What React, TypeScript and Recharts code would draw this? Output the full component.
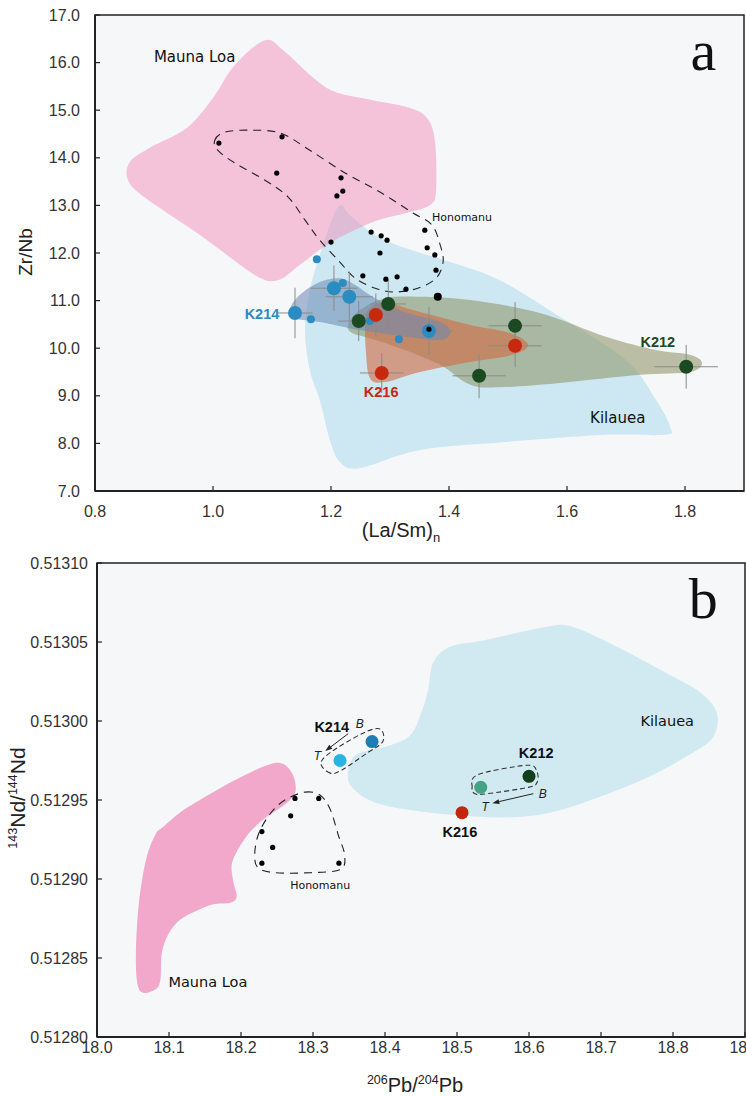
import React from "react";
import { ScatterChart, Scatter, XAxis, YAxis, ReferenceArea } from "recharts";

type P = { x: number; y: number };
type E = P & { ex: number; ey: number };
type L = P & { text: string };

// ---------- panel a : (La/Sm)n vs Zr/Nb ----------
const xTicksA = [0.8, 1.0, 1.2, 1.4, 1.6, 1.8];
const yTicksA = [7, 8, 9, 10, 11, 12, 13, 14, 15, 16, 17];

const maunaLoaA: P[] = [
  { x: 1.088, y: 16.47 }, { x: 1.119, y: 16.26 }, { x: 1.169, y: 15.69 }, { x: 1.207, y: 15.38 },
  { x: 1.271, y: 15.21 }, { x: 1.327, y: 15.07 }, { x: 1.361, y: 14.86 }, { x: 1.376, y: 14.37 },
  { x: 1.378, y: 13.32 }, { x: 1.368, y: 13.01 }, { x: 1.327, y: 12.84 }, { x: 1.271, y: 12.65 },
  { x: 1.198, y: 12.21 }, { x: 1.147, y: 11.75 }, { x: 1.11, y: 11.43 }, { x: 1.071, y: 11.54 },
  { x: 0.978, y: 12.38 }, { x: 0.885, y: 13.16 }, { x: 0.856, y: 13.53 }, { x: 0.859, y: 13.91 },
  { x: 0.893, y: 14.21 }, { x: 0.956, y: 14.63 }, { x: 1.0, y: 15.26 }, { x: 1.037, y: 15.95 },
];

const kilaueaA: P[] = [
  { x: 1.215, y: 13.01 }, { x: 1.232, y: 12.8 }, { x: 1.275, y: 12.38 }, { x: 1.325, y: 12.11 },
  { x: 1.402, y: 11.81 }, { x: 1.486, y: 11.43 }, { x: 1.588, y: 10.66 }, { x: 1.7, y: 9.75 },
  { x: 1.751, y: 8.91 }, { x: 1.775, y: 8.34 }, { x: 1.766, y: 8.18 }, { x: 1.666, y: 8.18 },
  { x: 1.497, y: 8.03 }, { x: 1.351, y: 7.86 }, { x: 1.249, y: 7.48 }, { x: 1.215, y: 7.61 },
  { x: 1.198, y: 8.07 }, { x: 1.181, y: 8.91 }, { x: 1.164, y: 9.54 }, { x: 1.156, y: 10.38 },
  { x: 1.164, y: 11.22 }, { x: 1.181, y: 11.96 }, { x: 1.198, y: 12.59 },
];

const k212FieldA: P[] = [
  { x: 1.229, y: 10.49 }, { x: 1.249, y: 10.8 }, { x: 1.292, y: 11.05 }, { x: 1.351, y: 11.08 },
  { x: 1.436, y: 11.01 }, { x: 1.554, y: 10.74 }, { x: 1.666, y: 10.24 }, { x: 1.751, y: 9.96 },
  { x: 1.808, y: 9.86 }, { x: 1.829, y: 9.69 }, { x: 1.808, y: 9.5 }, { x: 1.724, y: 9.44 },
  { x: 1.588, y: 9.27 }, { x: 1.486, y: 9.18 }, { x: 1.436, y: 9.23 }, { x: 1.385, y: 9.65 },
  { x: 1.317, y: 10.0 }, { x: 1.266, y: 10.21 }, { x: 1.236, y: 10.32 },
];

const k216FieldA: P[] = [
  { x: 1.263, y: 10.8 }, { x: 1.292, y: 10.95 }, { x: 1.351, y: 10.76 }, { x: 1.436, y: 10.49 },
  { x: 1.503, y: 10.32 }, { x: 1.534, y: 10.07 }, { x: 1.507, y: 9.86 }, { x: 1.436, y: 9.71 },
  { x: 1.351, y: 9.5 }, { x: 1.292, y: 9.29 }, { x: 1.266, y: 9.37 }, { x: 1.259, y: 9.96 },
  { x: 1.258, y: 10.49 },
];

const k214FieldA: P[] = [
  { x: 1.131, y: 10.84 }, { x: 1.147, y: 11.12 }, { x: 1.181, y: 11.39 }, { x: 1.215, y: 11.47 },
  { x: 1.241, y: 11.33 }, { x: 1.275, y: 11.05 }, { x: 1.325, y: 10.76 }, { x: 1.385, y: 10.55 },
  { x: 1.402, y: 10.34 }, { x: 1.385, y: 10.17 }, { x: 1.317, y: 10.26 }, { x: 1.249, y: 10.38 },
  { x: 1.181, y: 10.55 }, { x: 1.139, y: 10.63 },
];

const honomanuLineA: P[] = [
  { x: 1.003, y: 14.37 }, { x: 1.02, y: 14.54 }, { x: 1.063, y: 14.58 }, { x: 1.114, y: 14.52 },
  { x: 1.164, y: 14.16 }, { x: 1.224, y: 13.68 }, { x: 1.283, y: 13.28 }, { x: 1.339, y: 12.84 },
  { x: 1.371, y: 12.59 }, { x: 1.385, y: 12.17 }, { x: 1.39, y: 11.81 }, { x: 1.378, y: 11.47 },
  { x: 1.347, y: 11.26 }, { x: 1.308, y: 11.18 }, { x: 1.275, y: 11.26 }, { x: 1.241, y: 11.47 },
  { x: 1.215, y: 11.81 }, { x: 1.181, y: 12.27 }, { x: 1.156, y: 12.69 }, { x: 1.127, y: 13.18 },
  { x: 1.088, y: 13.53 }, { x: 1.037, y: 13.89 }, { x: 1.008, y: 14.16 },
];

const honomanuDotsA: P[] = [
  { x: 1.01, y: 14.31 }, { x: 1.117, y: 14.44 }, { x: 1.108, y: 13.68 }, { x: 1.217, y: 13.58 },
  { x: 1.22, y: 13.3 }, { x: 1.21, y: 13.2 }, { x: 1.2, y: 12.23 }, { x: 1.268, y: 12.44 },
  { x: 1.285, y: 12.36 }, { x: 1.295, y: 12.27 }, { x: 1.283, y: 12.0 }, { x: 1.359, y: 12.48 },
  { x: 1.363, y: 12.11 }, { x: 1.376, y: 11.96 }, { x: 1.378, y: 11.64 }, { x: 1.254, y: 11.52 },
  { x: 1.293, y: 11.45 }, { x: 1.312, y: 11.5 }, { x: 1.327, y: 11.24 }, { x: 1.366, y: 10.4 },
];
const honomanuBigA: P[] = [{ x: 1.381, y: 11.08 }];

const k214DotsA: E[] = [
  { x: 1.139, y: 10.74, ex: 0.03, ey: 0.53 },
  { x: 1.205, y: 11.26, ex: 0.04, ey: 0.48 },
  { x: 1.231, y: 11.08, ex: 0.04, ey: 0.53 },
  { x: 1.366, y: 10.36, ex: 0.04, ey: 0.5 },
];
const k214SmallA: P[] = [
  { x: 1.176, y: 11.87 }, { x: 1.22, y: 11.37 }, { x: 1.166, y: 10.61 }, { x: 1.266, y: 10.57 }, { x: 1.315, y: 10.19 },
];
const k212DotsA: E[] = [
  { x: 1.297, y: 10.93, ex: 0.03, ey: 0.5 },
  { x: 1.247, y: 10.57, ex: 0.035, ey: 0.42 },
  { x: 1.512, y: 10.47, ex: 0.045, ey: 0.5 },
  { x: 1.451, y: 9.42, ex: 0.045, ey: 0.47 },
  { x: 1.802, y: 9.61, ex: 0.054, ey: 0.46 },
];
const k216DotsA: E[] = [
  { x: 1.276, y: 10.7, ex: 0.03, ey: 0.45 },
  { x: 1.512, y: 10.05, ex: 0.045, ey: 0.45 },
  { x: 1.286, y: 9.48, ex: 0.037, ey: 0.42 },
];

const placeNamesA: L[] = [
  { x: 0.969, y: 16.12, text: "Mauna Loa" },
  { x: 1.686, y: 8.53, text: "Kilauea" },
];
const honomanuNameA: L[] = [{ x: 1.422, y: 12.76, text: "Honomanu" }];
const k214NameA: L[] = [{ x: 1.083, y: 10.72, text: "K214" }];
const k216NameA: L[] = [{ x: 1.285, y: 9.08, text: "K216" }];
const k212NameA: L[] = [{ x: 1.754, y: 10.13, text: "K212" }];
const panelA: L[] = [{ x: 1.831, y: 15.84, text: "a" }];

// ---------- panel b : 206Pb/204Pb vs 143Nd/144Nd ----------
const xTicksB = [18.0, 18.1, 18.2, 18.3, 18.4, 18.5, 18.6, 18.7, 18.8, 18.9];
const yTicksB = [0.5128, 0.51285, 0.5129, 0.51295, 0.513, 0.51305, 0.5131];

const maunaLoaB: P[] = [
  { x: 18.092, y: 0.512933 }, { x: 18.115, y: 0.512942 }, { x: 18.143, y: 0.51295 }, { x: 18.189, y: 0.512962 },
  { x: 18.236, y: 0.512972 }, { x: 18.258, y: 0.512973 }, { x: 18.272, y: 0.512966 }, { x: 18.276, y: 0.512956 },
  { x: 18.268, y: 0.51295 }, { x: 18.254, y: 0.512945 }, { x: 18.229, y: 0.512937 }, { x: 18.206, y: 0.512926 },
  { x: 18.188, y: 0.512911 }, { x: 18.189, y: 0.512899 }, { x: 18.194, y: 0.512889 }, { x: 18.185, y: 0.512885 },
  { x: 18.161, y: 0.512884 }, { x: 18.139, y: 0.51288 }, { x: 18.115, y: 0.512874 }, { x: 18.099, y: 0.512865 },
  { x: 18.09, y: 0.512853 }, { x: 18.088, y: 0.512836 }, { x: 18.081, y: 0.51283 }, { x: 18.064, y: 0.512828 },
  { x: 18.056, y: 0.512834 }, { x: 18.054, y: 0.512853 }, { x: 18.058, y: 0.512884 }, { x: 18.068, y: 0.512912 },
  { x: 18.081, y: 0.512928 },
];

const kilaueaB: P[] = [
  { x: 18.349, y: 0.512969 }, { x: 18.361, y: 0.512979 }, { x: 18.403, y: 0.512984 }, { x: 18.435, y: 0.512991 },
  { x: 18.451, y: 0.513006 }, { x: 18.46, y: 0.51302 }, { x: 18.467, y: 0.513037 }, { x: 18.49, y: 0.513047 },
  { x: 18.536, y: 0.513051 }, { x: 18.629, y: 0.51306 }, { x: 18.664, y: 0.513059 }, { x: 18.722, y: 0.513047 },
  { x: 18.792, y: 0.51303 }, { x: 18.838, y: 0.513018 }, { x: 18.861, y: 0.513005 }, { x: 18.856, y: 0.51299 },
  { x: 18.828, y: 0.51298 }, { x: 18.768, y: 0.512965 }, { x: 18.699, y: 0.512952 }, { x: 18.629, y: 0.512942 },
  { x: 18.56, y: 0.512939 }, { x: 18.463, y: 0.512942 }, { x: 18.389, y: 0.512948 }, { x: 18.354, y: 0.512958 },
];

const honomanuLineB: P[] = [
  { x: 18.289, y: 0.512955 }, { x: 18.31, y: 0.512953 }, { x: 18.324, y: 0.512944 }, { x: 18.335, y: 0.512928 },
  { x: 18.344, y: 0.512915 }, { x: 18.338, y: 0.512906 }, { x: 18.296, y: 0.512904 }, { x: 18.247, y: 0.512904 },
  { x: 18.224, y: 0.512907 }, { x: 18.219, y: 0.512915 }, { x: 18.224, y: 0.512928 }, { x: 18.24, y: 0.512941 },
  { x: 18.261, y: 0.51295 },
];
const honomanuDotsB: P[] = [
  { x: 18.275, y: 0.512951 }, { x: 18.308, y: 0.512951 }, { x: 18.269, y: 0.51294 }, { x: 18.229, y: 0.51293 },
  { x: 18.244, y: 0.51292 }, { x: 18.229, y: 0.51291 }, { x: 18.336, y: 0.51291 },
];

const k214LoopB: P[] = [
  { x: 18.324, y: 0.512967 }, { x: 18.311, y: 0.512973 }, { x: 18.324, y: 0.51298 }, { x: 18.368, y: 0.512992 },
  { x: 18.393, y: 0.512995 }, { x: 18.397, y: 0.512987 }, { x: 18.376, y: 0.51298 }, { x: 18.34, y: 0.512969 },
];
const k212LoopB: P[] = [
  { x: 18.521, y: 0.512958 }, { x: 18.529, y: 0.512966 }, { x: 18.597, y: 0.512972 }, { x: 18.611, y: 0.512968 },
  { x: 18.611, y: 0.512961 }, { x: 18.599, y: 0.512958 }, { x: 18.542, y: 0.512954 }, { x: 18.525, y: 0.512954 },
];
const k214ArrowB: P[] = [{ x: 18.349, y: 0.512992 }, { x: 18.317, y: 0.512981 }];
const k212ArrowB: P[] = [{ x: 18.606, y: 0.512954 }, { x: 18.549, y: 0.512948 }];

const k214TopB: P[] = [{ x: 18.3375, y: 0.512975 }];
const k214BaseB: P[] = [{ x: 18.382, y: 0.512987 }];
const k212TopB: P[] = [{ x: 18.533, y: 0.512958 }];
const k212BaseB: P[] = [{ x: 18.6, y: 0.512965 }];
const k216B: P[] = [{ x: 18.507, y: 0.512942 }];

const placeNamesB: L[] = [
  { x: 18.154, y: 0.512835, text: "Mauna Loa" },
  { x: 18.792, y: 0.513, text: "Kilauea" },
];
const honomanuNameB: L[] = [{ x: 18.31, y: 0.512896, text: "Honomanu" }];
const sampleNamesB: L[] = [
  { x: 18.326, y: 0.512996, text: "K214" },
  { x: 18.61, y: 0.51298, text: "K212" },
  { x: 18.504, y: 0.51293, text: "K216" },
];
const topBaseB: L[] = [
  { x: 18.365, y: 0.512998, text: "B" },
  { x: 18.306, y: 0.512978, text: "T" },
  { x: 18.619, y: 0.512954, text: "B" },
  { x: 18.539, y: 0.512946, text: "T" },
];
const panelB: L[] = [{ x: 18.842, y: 0.513065, text: "b" }];

// ---------- drawing helpers ----------
const AX = "#222";
const ERR = "#8a8a8a";
const SANS = "'Liberation Sans', Arial, Helvetica, sans-serif";
const CASUAL = "'DejaVu Sans', sans-serif";

// closed Catmull-Rom path through pixel points
const smooth = (pts: P[]) => {
  const n = pts.length;
  if (!n) return "";
  let d = `M${pts[0].x},${pts[0].y}`;
  for (let i = 0; i < n; i++) {
    const p0 = pts[(i - 1 + n) % n];
    const p1 = pts[i];
    const p2 = pts[(i + 1) % n];
    const p3 = pts[(i + 2) % n];
    d += ` C${p1.x + (p2.x - p0.x) / 6},${p1.y + (p2.y - p0.y) / 6} ${p2.x - (p3.x - p1.x) / 6},${p2.y - (p3.y - p1.y) / 6} ${p2.x},${p2.y}`;
  }
  return d + "Z";
};

// error bar end points, drawn pairwise
const errEnds = (d: E[]) =>
  d.flatMap((p) => [
    { x: p.x - p.ex, y: p.y },
    { x: p.x + p.ex, y: p.y },
    { x: p.x, y: p.y - p.ey },
    { x: p.x, y: p.y + p.ey },
  ]);

const none = () => <g />;

const field = (id: string, data: P[], fill: string, opacity = 1, stroke = "none", dash?: string) => (
  <Scatter
    key={id}
    data={data}
    isAnimationActive={false}
    legendType="none"
    shape={none}
    line={(p: any) => (
      <path d={smooth(p.points)} fill={fill} fillOpacity={opacity} stroke={stroke} strokeWidth={1.1} strokeDasharray={dash} />
    )}
  />
);

const errBars = (id: string, data: E[]) => (
  <Scatter
    key={id}
    data={errEnds(data)}
    isAnimationActive={false}
    legendType="none"
    shape={none}
    line={(p: any) => {
      const pts = p.points as P[];
      let d = "";
      for (let i = 0; i + 1 < pts.length; i += 2) d += `M${pts[i].x},${pts[i].y}L${pts[i + 1].x},${pts[i + 1].y}`;
      return <path d={d} stroke={ERR} strokeWidth={1} fill="none" />;
    }}
  />
);

const dots = (id: string, data: P[], color: string, r: number) => (
  <Scatter
    key={id}
    data={data}
    fill={color}
    isAnimationActive={false}
    legendType="none"
    shape={(p: any) => <circle cx={p.cx} cy={p.cy} r={r} fill={color} />}
  />
);

const labels = (id: string, data: L[], style: Record<string, any>) => (
  <Scatter
    key={id}
    data={data}
    isAnimationActive={false}
    legendType="none"
    shape={(p: any) => (
      <text x={p.cx} y={p.cy} dy="0.35em" textAnchor="middle" {...style}>
        {p.payload.text}
      </text>
    )}
  />
);

const arrow = (id: string, data: P[]) => (
  <Scatter
    key={id}
    data={data}
    isAnimationActive={false}
    legendType="none"
    shape={none}
    line={(p: any) => {
      const [a, b] = p.points;
      const ang = Math.atan2(b.y - a.y, b.x - a.x);
      const bx = b.x - 7 * Math.cos(ang);
      const by = b.y - 7 * Math.sin(ang);
      const w = 2.5;
      return (
        <g>
          <line x1={a.x} y1={a.y} x2={bx} y2={by} stroke={AX} strokeWidth={1} />
          <polygon
            points={`${b.x},${b.y} ${bx - w * Math.sin(ang)},${by + w * Math.cos(ang)} ${bx + w * Math.sin(ang)},${by - w * Math.cos(ang)}`}
            fill={AX}
          />
        </g>
      );
    }}
  />
);

const xTick = (off: number, digits: number) => (props: any) => {
  const { x, y, payload } = props;
  return (
    <g>
      <line x1={x} x2={x} y1={y} y2={y - 5} stroke={AX} strokeWidth={1.2} />
      <text x={x} y={y + off} textAnchor="middle" fontFamily={SANS} fontSize={16} fill="#333">
        {Number(payload.value).toFixed(digits)}
      </text>
    </g>
  );
};

const yTick = (gap: number, digits: number) => (props: any) => {
  const { x, y, payload } = props;
  return (
    <g>
      <line x1={x} x2={x + 5} y1={y} y2={y} stroke={AX} strokeWidth={1.2} />
      <text x={x - gap} y={y} dy="0.35em" textAnchor="end" fontFamily={SANS} fontSize={16} fill="#333">
        {Number(payload.value).toFixed(digits)}
      </text>
    </g>
  );
};

const sup = (t: string) => (
  <span style={{ fontSize: 12.5, position: "relative", top: -8 }}>{t}</span>
);

export default function App() {
  return (
    <div
      style={{
        position: "absolute",
        left: 0,
        top: 0,
        width: 746,
        height: 1096,
        overflow: "hidden",
        background: "#fff",
        fontFamily: SANS,
      }}
    >
      {/* panel a */}
      <div style={{ position: "absolute", left: 0, top: 0 }}>
        <ScatterChart width={746} height={540} margin={{ top: 15, right: 2, bottom: 0, left: 0 }}>
          <XAxis
            type="number"
            dataKey="x"
            domain={[0.8, 1.9]}
            ticks={xTicksA}
            interval={0}
            allowDataOverflow
            height={49}
            tickSize={0}
            tickMargin={0}
            tickLine={false}
            tick={xTick(25.5, 1)}
            axisLine={{ stroke: AX, strokeWidth: 2 }}
          />
          <YAxis
            type="number"
            dataKey="y"
            domain={[7, 17]}
            ticks={yTicksA}
            interval={0}
            allowDataOverflow
            width={95}
            tickSize={0}
            tickMargin={0}
            tickLine={false}
            tick={yTick(15, 1)}
            axisLine={{ stroke: AX, strokeWidth: 2 }}
          />
          <ReferenceArea x1={0.8} x2={1.9} y1={7} y2={17} fill="#f6f7f9" fillOpacity={1} stroke={AX} strokeWidth={1.5} />
          {field("kilA", kilaueaA, "#cde8f2")}
          {field("mlA", maunaLoaA, "#f190ba", 0.5)}
          {field("k212A", k212FieldA, "#8a9060", 0.55)}
          {field("k216A", k216FieldA, "#d2693f", 0.6)}
          {field("k214A", k214FieldA, "#6a86b5", 0.55)}
          {field("honA", honomanuLineA, "none", 1, "#222", "8 6")}
          {errBars("e214A", k214DotsA)}
          {errBars("e212A", k212DotsA)}
          {errBars("e216A", k216DotsA)}
          {dots("k214sA", k214SmallA, "#2a8cc0", 4)}
          {dots("k214A", k214DotsA, "#2a8cc0", 7)}
          {dots("k212A", k212DotsA, "#1b4a22", 7)}
          {dots("k216A", k216DotsA, "#c8280e", 7)}
          {dots("honDA", honomanuDotsA, "#000", 2.6)}
          {dots("honBA", honomanuBigA, "#000", 4)}
          {labels("plA", placeNamesA, { fontFamily: CASUAL, fontSize: 15, fill: "#111" })}
          {labels("hnA", honomanuNameA, { fontFamily: CASUAL, fontSize: 11, fill: "#111" })}
          {labels("n214A", k214NameA, { fontFamily: SANS, fontSize: 14.5, fontWeight: 700, fill: "#2a8cc0" })}
          {labels("n216A", k216NameA, { fontFamily: SANS, fontSize: 14.5, fontWeight: 700, fill: "#c8280e" })}
          {labels("n212A", k212NameA, { fontFamily: SANS, fontSize: 14.5, fontWeight: 700, fill: "#1b4a22" })}
          {labels("pA", panelA, { fontFamily: "'Liberation Serif', serif", fontSize: 58, fill: "#111", dy: 0 })}
        </ScatterChart>
      </div>
      <div style={{ position: "absolute", left: 401, top: 519, transform: "translateX(-50%)", fontSize: 20, lineHeight: "23px", whiteSpace: "nowrap", color: "#222" }}>
        (La/Sm)<span style={{ fontSize: 13, position: "relative", top: 5 }}>n</span>
      </div>
      <div
        style={{
          position: "absolute",
          left: 26,
          top: 252,
          transform: "translate(-50%, -50%) rotate(-90deg)",
          fontSize: 19,
          whiteSpace: "nowrap",
          color: "#222",
        }}
      >
        Zr/Nb
      </div>

      {/* panel b */}
      <div style={{ position: "absolute", left: 0, top: 548 }}>
        <ScatterChart width={746} height={548} margin={{ top: 15, right: 1, bottom: 0, left: 0 }}>
          <XAxis
            type="number"
            dataKey="x"
            domain={[18.0, 18.9]}
            ticks={xTicksB}
            interval={0}
            allowDataOverflow
            height={59}
            tickSize={0}
            tickMargin={0}
            tickLine={false}
            tick={xTick(15.5, 1)}
            axisLine={{ stroke: AX, strokeWidth: 2 }}
          />
          <YAxis
            type="number"
            dataKey="y"
            domain={[0.5128, 0.5131]}
            ticks={yTicksB}
            interval={0}
            allowDataOverflow
            width={97}
            tickSize={0}
            tickMargin={0}
            tickLine={false}
            tick={yTick(9, 5)}
            axisLine={{ stroke: AX, strokeWidth: 2 }}
          />
          <ReferenceArea x1={18.0} x2={18.9} y1={0.5128} y2={0.5131} fill="#f6f7f9" fillOpacity={1} stroke={AX} strokeWidth={1.5} />
          {field("kilB", kilaueaB, "#d1eaf2")}
          {field("mlB", maunaLoaB, "#f2a8ca")}
          {field("honB", honomanuLineB, "none", 1, "#222", "8 6")}
          {field("k214L", k214LoopB, "none", 1, "#333", "5 3")}
          {field("k212L", k212LoopB, "none", 1, "#333", "5 3")}
          {arrow("k214Ar", k214ArrowB)}
          {arrow("k212Ar", k212ArrowB)}
          {dots("honDB", honomanuDotsB, "#000", 2.6)}
          {dots("k214T", k214TopB, "#29b3e3", 6.5)}
          {dots("k214B", k214BaseB, "#1e7db5", 6.5)}
          {dots("k212T", k212TopB, "#44a383", 6.5)}
          {dots("k212B", k212BaseB, "#12401f", 6.5)}
          {dots("k216B", k216B, "#c3260f", 6.5)}
          {labels("plB", placeNamesB, { fontFamily: CASUAL, fontSize: 14.5, fill: "#111" })}
          {labels("hnB", honomanuNameB, { fontFamily: CASUAL, fontSize: 11, fill: "#111" })}
          {labels("snB", sampleNamesB, { fontFamily: SANS, fontSize: 14.5, fontWeight: 700, fill: "#111" })}
          {labels("tbB", topBaseB, { fontFamily: SANS, fontSize: 12, fontStyle: "italic", fill: "#222" })}
          {labels("pB", panelB, { fontFamily: "'Liberation Serif', serif", fontSize: 58, fill: "#111", dy: 0 })}
        </ScatterChart>
      </div>
      <div style={{ position: "absolute", left: 415, top: 1074, transform: "translateX(-50%)", fontSize: 20, lineHeight: "23px", whiteSpace: "nowrap", color: "#222" }}>
        {sup("206")}Pb/{sup("204")}Pb
      </div>
      <div
        style={{
          position: "absolute",
          left: 18,
          top: 798,
          transform: "translate(-50%, -50%) rotate(-90deg)",
          fontSize: 21,
          whiteSpace: "nowrap",
          color: "#222",
        }}
      >
        {sup("143")}Nd/{sup("144")}Nd
      </div>
    </div>
  );
}
